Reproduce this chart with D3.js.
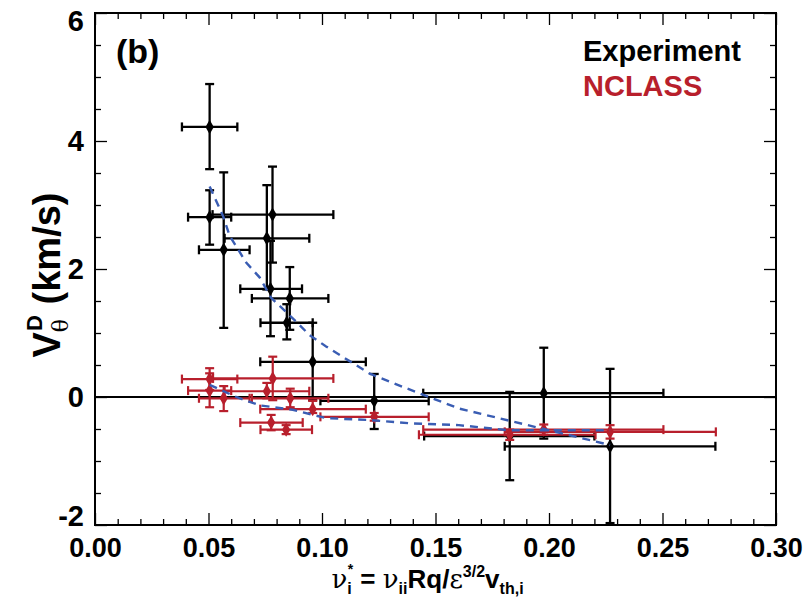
<!DOCTYPE html>
<html lang="en">
<head>
    <meta charset="UTF-8">
    <title>V theta D vs collisionality</title>
    <script src="https://d3js.org/d3.v7.min.js"></script>
    <style>
        body { margin: 0; background: #fff; }
        svg text { font-family: "Liberation Sans Narrow", "Liberation Sans", Arial, sans-serif; font-weight: bold; }
        .greek { font-family: "DejaVu Serif", "Liberation Serif", serif; font-weight: normal; }
    </style>
</head>
<body>
<div id="chart"></div>
<script>
    // Experiment (black) points and error bounds
    const expX   = [0.0505, 0.0505, 0.0567, 0.0782, 0.0757, 0.0773, 0.0858, 0.0845, 0.0959, 0.123, 0.1977, 0.1827, 0.2269];
    const expY   = [4.22, 2.81, 2.30, 2.85, 2.48, 1.69, 1.54, 1.16, 0.55, -0.06, 0.06, -0.61, -0.77];
    const expXLo = [0.0383, 0.041, 0.0458, 0.0518, 0.0571, 0.064, 0.0691, 0.0729, 0.0728, 0.0993, 0.1446, 0.145, 0.1805];
    const expXHi = [0.0627, 0.060, 0.0681, 0.105, 0.0944, 0.0912, 0.1028, 0.0959, 0.1193, 0.147, 0.2504, 0.220, 0.2733];
    const expYLo = [3.56, 2.38, 1.08, 2.10, 1.68, 0.95, 1.05, 0.90, -0.05, -0.50, -0.65, -1.30, -1.97];
    const expYHi = [4.89, 3.23, 3.51, 3.60, 3.31, 2.44, 2.03, 1.45, 1.16, 0.36, 0.77, 0.08, 0.44];

    // NCLASS (red) points and error bounds
    const ncX   = [0.0505, 0.0783, 0.0505, 0.0567, 0.0757, 0.086, 0.0959, 0.0776, 0.0842, 0.123, 0.1827, 0.1977, 0.2269];
    const ncY   = [0.28, 0.29, 0.10, -0.02, 0.09, -0.02, -0.19, -0.40, -0.51, -0.31, -0.59, -0.51, -0.545];
    const ncXLo = [0.0383, 0.052, 0.041, 0.0458, 0.0571, 0.0691, 0.0728, 0.064, 0.0729, 0.0993, 0.1427, 0.1446, 0.1805];
    const ncXHi = [0.0627, 0.105, 0.060, 0.0681, 0.0944, 0.1028, 0.1193, 0.0915, 0.0956, 0.147, 0.2205, 0.2504, 0.2735];
    const ncYLo = [0.11, -0.05, -0.16, -0.22, -0.02, -0.16, -0.25, -0.52, -0.58, -0.37, -0.67, -0.59, -0.65];
    const ncYHi = [0.45, 0.63, 0.37, 0.17, 0.22, 0.13, -0.06, -0.28, -0.44, -0.25, -0.51, -0.43, -0.44];

    // dashed trend curves
    const fitExpX = [0.0505, 0.0564, 0.0593, 0.0666, 0.0725, 0.0776, 0.0886, 0.0944, 0.1018, 0.1208, 0.1369, 0.1603, 0.2269];
    const fitExpY = [3.29, 2.83, 2.52, 2.10, 1.87, 1.55, 1.18, 0.97, 0.79, 0.37, 0.14, -0.18, -0.75];
    const fitNcX  = [0.0505, 0.0622, 0.0725, 0.0871, 0.1018, 0.1208, 0.1384, 0.1603, 0.1823, 0.2269];
    const fitNcY  = [0.19, 0.0, -0.13, -0.20, -0.33, -0.36, -0.41, -0.44, -0.52, -0.52];

    const xMajor = [0, 0.05, 0.10, 0.15, 0.20, 0.25, 0.30];
    const yMajor = [-2, 0, 2, 4, 6];

    const width = 811, height = 603;
    const plotL = 95, plotR = 776, plotT = 13, plotB = 525;

    const x = d3.scaleLinear().domain([0, 0.3]).range([plotL, plotR]);
    const y = d3.scaleLinear().domain([-2, 6]).range([plotB, plotT]);

    const svg = d3.select("#chart").append("svg")
        .attr("width", width)
        .attr("height", height);

    // zero line
    svg.append("line")
        .attr("x1", x(0)).attr("x2", x(0.3))
        .attr("y1", y(0)).attr("y2", y(0))
        .attr("stroke", "#000").attr("stroke-width", 2);

    function drawSeries(xs, ys, xlo, xhi, ylo, yhi, color, lw) {
        const rows = xs.map((v, i) => ({ x: v, y: ys[i], xlo: xlo[i], xhi: xhi[i], ylo: ylo[i], yhi: yhi[i] }));
        const g = svg.append("g").attr("stroke", color).attr("stroke-width", lw).attr("fill", "none");
        const cap = 4.5;
        rows.forEach(d => {
            // horizontal bar + caps
            g.append("line").attr("x1", x(d.xlo)).attr("x2", x(d.xhi)).attr("y1", y(d.y)).attr("y2", y(d.y));
            g.append("line").attr("x1", x(d.xlo)).attr("x2", x(d.xlo)).attr("y1", y(d.y) - cap).attr("y2", y(d.y) + cap);
            g.append("line").attr("x1", x(d.xhi)).attr("x2", x(d.xhi)).attr("y1", y(d.y) - cap).attr("y2", y(d.y) + cap);
            // vertical bar + caps
            g.append("line").attr("x1", x(d.x)).attr("x2", x(d.x)).attr("y1", y(d.ylo)).attr("y2", y(d.yhi));
            g.append("line").attr("x1", x(d.x) - cap).attr("x2", x(d.x) + cap).attr("y1", y(d.ylo)).attr("y2", y(d.ylo));
            g.append("line").attr("x1", x(d.x) - cap).attr("x2", x(d.x) + cap).attr("y1", y(d.yhi)).attr("y2", y(d.yhi));
        });
        svg.append("g").selectAll("path")
            .data(rows)
            .join("path")
            .attr("d", d3.symbol(d3.symbolDiamond, 60))
            .attr("transform", d => `translate(${x(d.x)},${y(d.y)})`)
            .attr("fill", color);
    }

    drawSeries(expX, expY, expXLo, expXHi, expYLo, expYHi, "#000", 2.3);
    drawSeries(ncX, ncY, ncXLo, ncXHi, ncYLo, ncYHi, "#b81f2c", 2.2);

    const line = d3.line().x(d => x(d[0])).y(d => y(d[1]));
    [[fitExpX, fitExpY], [fitNcX, fitNcY]].forEach(([fx, fy]) => {
        svg.append("path")
            .datum(fx.map((v, i) => [v, fy[i]]))
            .attr("d", line)
            .attr("fill", "none")
            .attr("stroke", "#3a5db3")
            .attr("stroke-width", 2.4)
            .attr("stroke-dasharray", "8,6");
    });

    // axes: inward ticks on all four sides
    const xMinor = d3.range(0, 0.3001, 0.01).filter(v => !xMajor.some(m => Math.abs(m - v) < 1e-6));
    const yMinor = d3.range(-2, 6.001, 0.5).filter(v => !yMajor.some(m => Math.abs(m - v) < 1e-6));

    function styleAxis(g) {
        g.select(".domain").remove();
        g.selectAll("line").attr("stroke", "#000").attr("stroke-width", 1.3);
        g.selectAll("text").attr("fill", "#000");
    }

    svg.append("g").attr("transform", `translate(0,${plotB})`)
        .call(d3.axisBottom(x).tickValues(xMajor).tickSize(-12).tickPadding(13).tickFormat(d3.format(".2f")))
        .call(styleAxis)
        .call(g => g.selectAll("text").attr("font-size", 27));
    svg.append("g").attr("transform", `translate(0,${plotB})`)
        .call(d3.axisBottom(x).tickValues(xMinor).tickSize(-6).tickFormat(""))
        .call(styleAxis);
    svg.append("g").attr("transform", `translate(0,${plotT})`)
        .call(d3.axisTop(x).tickValues(xMajor).tickSize(-12).tickFormat(""))
        .call(styleAxis);
    svg.append("g").attr("transform", `translate(0,${plotT})`)
        .call(d3.axisTop(x).tickValues(xMinor).tickSize(-6).tickFormat(""))
        .call(styleAxis);

    svg.append("g").attr("transform", `translate(${plotL},0)`)
        .call(d3.axisLeft(y).tickValues(yMajor).tickSize(-12).tickPadding(11).tickFormat(d => String(d)))
        .call(styleAxis)
        .call(g => g.selectAll("text").attr("font-size", 29)
            .attr("dy", d => d === 6 ? "0.62em" : d === -2 ? "0.0em" : "0.34em"));
    svg.append("g").attr("transform", `translate(${plotL},0)`)
        .call(d3.axisLeft(y).tickValues(yMinor).tickSize(-6).tickFormat(""))
        .call(styleAxis);
    svg.append("g").attr("transform", `translate(${plotR},0)`)
        .call(d3.axisRight(y).tickValues(yMajor).tickSize(-12).tickFormat(""))
        .call(styleAxis);
    svg.append("g").attr("transform", `translate(${plotR},0)`)
        .call(d3.axisRight(y).tickValues(yMinor).tickSize(-6).tickFormat(""))
        .call(styleAxis);

    // frame
    svg.append("rect")
        .attr("x", plotL).attr("y", plotT)
        .attr("width", plotR - plotL).attr("height", plotB - plotT)
        .attr("fill", "none").attr("stroke", "#000").attr("stroke-width", 2);

    // panel label and legend
    svg.append("text").attr("x", 116).attr("y", 63).attr("font-size", 34).text("(b)");
    svg.append("text").attr("x", 583).attr("y", 61).attr("font-size", 29).attr("fill", "#000").text("Experiment");
    svg.append("text").attr("x", 583).attr("y", 96).attr("font-size", 29).attr("fill", "#b81f2c").text("NCLASS");

    // y title
    const yt = svg.append("text")
        .attr("transform", `translate(60,275) rotate(-90)`)
        .attr("text-anchor", "middle")
        .attr("font-size", 38);
    yt.append("tspan").text("V");
    yt.append("tspan").attr("class", "greek").attr("font-size", 22).attr("dy", 8).text("θ");
    yt.append("tspan").attr("font-size", 22).attr("dx", -12).attr("dy", -26).text("D");
    yt.append("tspan").attr("dy", 18).text(" (km/s)");

    // x title
    const xt = svg.append("text")
        .attr("x", (plotL + plotR) / 2 - 8)
        .attr("y", 588)
        .attr("text-anchor", "middle")
        .attr("font-size", 26);
    xt.append("tspan").attr("class", "greek").text("ν");
    xt.append("tspan").attr("font-size", 16).attr("dy", 6).text("i");
    xt.append("tspan").attr("font-size", 14).attr("dx", -4).attr("dy", -20).text("*");
    xt.append("tspan").attr("dy", 14).text(" = ");
    xt.append("tspan").attr("class", "greek").text("ν");
    xt.append("tspan").attr("font-size", 16).attr("dy", 6).text("ii");
    xt.append("tspan").attr("dy", -6).text("Rq/");
    xt.append("tspan").attr("class", "greek").text("ε");
    xt.append("tspan").attr("font-size", 16).attr("dy", -11).text("3/2");
    xt.append("tspan").attr("dy", 11).text("v");
    xt.append("tspan").attr("font-size", 16).attr("dy", 6).text("th,i");
</script>
</body>
</html>
